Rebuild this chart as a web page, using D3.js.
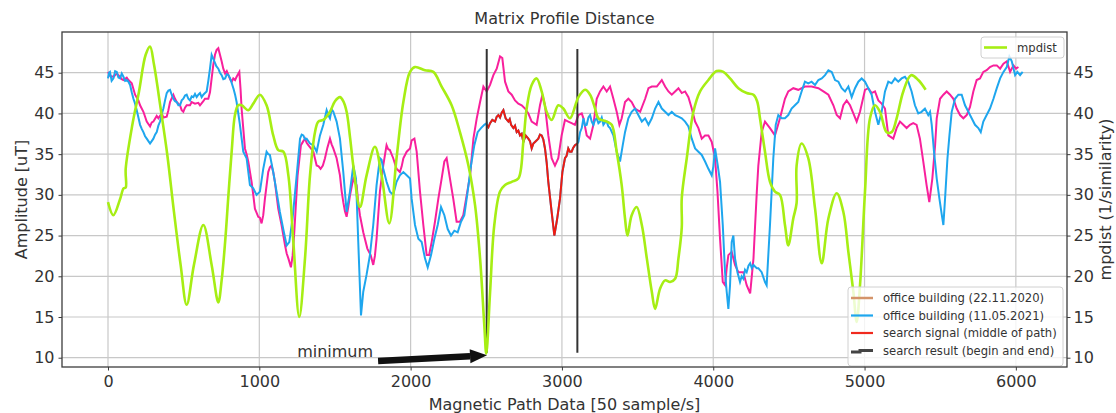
<!DOCTYPE html>
<html>
<head>
<meta charset="utf-8">
<script src="https://cdn.jsdelivr.net/npm/d3@7"></script>
<style>
  body { margin: 0; background: #fff; }
  text { font-family: "DejaVu Sans", sans-serif; fill: #333; }
</style>
</head>
<body>
<div id="chart"></div>
<script>
// ---- data ----
const xTicks = [0, 1000, 2000, 3000, 4000, 5000, 6000];
const yTicks = [10, 15, 20, 25, 30, 35, 40, 45];

// office building (22.11.2020) - pink
const office2020 = [[0,45.1],[13,44.6],[36,44.5],[58,44.9],[69,44.7],[91,44.2],[102,44.1],[124,44.4],[135,44.1],[157,43.7],[179,42.3],[201,41.6],[212,41],[234,40.2],[256,39],[278,38.4],[289,38.9],[300,39],[322,39.7],[333,39.4],[355,40],[366,39.5],[388,39.6],[399,40.4],[410,41.4],[432,42.3],[443,41.8],[454,41.4],[476,41],[487,40.4],[498,40.2],[509,40.7],[520,41],[542,41],[553,41.4],[575,41.2],[597,41.3],[608,41],[630,41.5],[641,41.8],[663,41.8],[674,42.6],[685,44.3],[696,46],[707,47.2],[718,47.8],[729,48],[740,47.2],[751,46.4],[762,45.5],[774,44.9],[785,45.2],[796,44.7],[807,44.2],[818,43.9],[828,44.3],[840,44.1],[850,44.5],[868,45.1],[876,43],[883,40.6],[905,35.7],[916,35],[927,34.1],[949,31.6],[960,30],[971,28.3],[993,27.3],[1004,27.2],[1015,26.5],[1026,27.5],[1037,29.5],[1059,32.8],[1070,33.4],[1081,33.6],[1092,32.8],[1103,31.6],[1125,28.3],[1147,26.3],[1170,23.8],[1181,22.8],[1192,22.2],[1209,21.1],[1220,22.5],[1231,25.4],[1253,32.4],[1275,36.1],[1291,36.6],[1302,36.9],[1313,36.4],[1324,36.1],[1346,35.6],[1357,35.3],[1379,33.6],[1392,33.5],[1405,33.2],[1420,33.6],[1434,34.5],[1450,35.8],[1467,36.9],[1478,36.2],[1489,35.7],[1511,34.5],[1533,32.4],[1544,30.5],[1555,29.1],[1566,28],[1577,27.3],[1588,28.5],[1599,29.9],[1621,32],[1632,31.5],[1643,31.2],[1654,29],[1665,27.5],[1687,25.4],[1714,23.4],[1736,22.6],[1753,21.4],[1764,22.5],[1775,24.6],[1797,30.4],[1819,33.6],[1841,36.1],[1852,35.6],[1863,35.5],[1885,34.5],[1907,33.2],[1929,32.8],[1941,33.5],[1952,34.5],[1974,35.3],[1996,35.7],[2007,36.7],[2025,36.9],[2040,35.3],[2062,30.4],[2084,26.3],[2106,22.6],[2122,22.6],[2139,24.2],[2161,26.7],[2183,29.5],[2205,32],[2223,34.1],[2238,34.5],[2260,32],[2282,29.5],[2304,26.7],[2326,26.7],[2348,27.5],[2371,30],[2393,32.4],[2415,36.9],[2437,39.4],[2459,41.4],[2481,43.3],[2503,42.7],[2525,43.5],[2547,44.7],[2569,45.5],[2591,47],[2606,46.8],[2624,43.9],[2646,42.7],[2668,42.3],[2690,41.6],[2712,41.2],[2734,41],[2756,40.6],[2778,40],[2800,39],[2833,38.6],[2855,41],[2871,42.3],[2888,41],[2910,37.3],[2932,34.5],[2954,33.6],[2976,34.5],[2998,37.3],[3020,39.2],[3042,39],[3064,38.8],[3086,38.6],[3109,39.8],[3131,40],[3142,39.4],[3164,37.3],[3186,36.9],[3208,38.6],[3230,41.8],[3252,42.7],[3274,43.3],[3296,42.7],[3318,43.3],[3340,41.8],[3362,40.2],[3380,38.6],[3395,39.4],[3417,41.4],[3439,41.8],[3461,41.4],[3483,40.6],[3517,40.2],[3550,41.8],[3572,43.1],[3594,43.3],[3627,43.3],[3660,44.1],[3682,43.3],[3704,42.7],[3726,42.3],[3748,42.7],[3770,43.1],[3792,42.5],[3814,42.7],[3836,42],[3858,40.6],[3880,39],[3902,38.2],[3924,36.9],[3946,37.3],[3968,37.3],[3990,36.5],[4012,34.5],[4028,30.4],[4045,24.6],[4063,19.3],[4078,18.9],[4089,21],[4100,22.6],[4122,23],[4144,21.4],[4166,20.5],[4199,20.5],[4221,18.9],[4244,17.9],[4266,22.2],[4276,26],[4288,30.4],[4298,33.6],[4320,37.7],[4342,39],[4375,38.2],[4408,37.3],[4441,39.4],[4474,41.8],[4496,42.7],[4529,43.1],[4562,42.9],[4606,43.3],[4650,43.3],[4695,43.1],[4728,42.7],[4761,42.3],[4794,41],[4816,39.8],[4838,39.4],[4860,41],[4882,41.6],[4904,41],[4926,40],[4948,39],[4970,40.2],[5003,42.9],[5025,43.1],[5047,42.5],[5069,42.7],[5091,41.6],[5113,41.2],[5135,40.6],[5157,37.3],[5190,36.9],[5212,38.2],[5234,39],[5256,38.6],[5278,38.2],[5300,38.6],[5322,38.8],[5344,38.6],[5366,36.9],[5388,34.1],[5410,31.2],[5428,29.1],[5448,32],[5466,36],[5477,39.4],[5499,41.8],[5521,42.3],[5543,42.7],[5565,42.3],[5587,41.8],[5609,40.6],[5631,39.8],[5653,39.4],[5675,39.8],[5697,40.8],[5719,42.7],[5741,44.1],[5763,44.3],[5785,45.1],[5807,45.3],[5829,45.7],[5852,45.9],[5874,45.9],[5896,45.5],[5918,46.1],[5940,46.4],[5962,45.1],[5984,45.9],[6001,45.5],[6017,45.7]];

// office building (11.05.2021) - blue, before and after the search window
const office2021a = [[0,44.3],[7,45],[13,45.1],[24,44],[36,44.3],[47,45.2],[58,45.1],[69,44.4],[80,44.3],[91,44.9],[102,44.5],[113,44],[124,44.1],[135,43.9],[146,43.5],[157,42.6],[168,41.8],[179,41.2],[190,40.4],[201,39.5],[212,38.6],[223,38.1],[234,37.7],[245,37.2],[256,36.9],[267,36.6],[278,36.3],[289,36.6],[300,36.9],[311,37.4],[322,37.7],[333,38.5],[344,39],[355,39.9],[366,40.6],[377,41.6],[388,42.5],[399,42.8],[410,42.9],[421,42.3],[432,41.8],[443,41.5],[454,41.4],[465,41],[476,41],[487,41.6],[498,41.8],[509,42.2],[520,42.3],[531,41.8],[542,41.6],[553,42.1],[564,42],[575,42.4],[586,42],[597,42.3],[608,42.5],[619,42],[630,42.3],[641,42.5],[652,42.7],[663,44],[674,45.5],[685,47.2],[694,46.8],[703,46.4],[716,45.8],[729,45.5],[740,45],[751,44.7],[762,44.2],[774,44.3],[785,44.8],[796,44.7],[807,44.3],[818,43.7],[830,43],[840,42.3],[850,41.4],[872,38.6],[894,35.3],[916,34.5],[938,31.2],[960,30.8],[982,30],[1004,30.4],[1026,33.2],[1048,35.3],[1059,35],[1070,34.9],[1092,32.8],[1114,30.4],[1136,27.9],[1158,25.8],[1181,23.8],[1198,24.2],[1220,27.1],[1247,32.4],[1269,36.9],[1280,37.4],[1291,37.3],[1302,36.8],[1313,36.9],[1335,36.3],[1357,36.1],[1379,35.3],[1401,37.3],[1423,38.6],[1445,40.4],[1456,39.8],[1467,39.4],[1478,40.5],[1489,40.2],[1500,39.6],[1511,39],[1533,36.9],[1555,32.8],[1577,27.9],[1599,30.4],[1621,33.6],[1639,32],[1654,24.2],[1672,15.2],[1687,18.1],[1709,20.2],[1731,22.6],[1753,26.3],[1775,31.2],[1797,34.5],[1808,34.3],[1819,33.2],[1841,31.6],[1863,30.4],[1885,30],[1907,31.6],[1929,32.4],[1952,32.8],[1974,32.4],[1996,32],[2007,29.5],[2029,26.3],[2051,24.6],[2073,24.2],[2095,22.2],[2113,21.1],[2135,22.6],[2157,24.6],[2179,26.3],[2201,28.5],[2223,27.5],[2245,25.8],[2267,25],[2289,25.6],[2311,25.4],[2333,26.7],[2355,27.5],[2377,30.4],[2399,33.6],[2421,36.1],[2443,37.7],[2465,38.2],[2487,38.6],[2503,38.8]];
const office2021b = [[3102,36.3],[3109,36.5],[3120,37.7],[3131,38.2],[3142,39.4],[3153,38.5],[3164,38.6],[3175,39.5],[3186,39.8],[3197,39],[3208,38.6],[3219,39.2],[3230,39.4],[3241,38.8],[3252,39],[3263,39.5],[3274,38.6],[3285,38.9],[3296,39],[3307,38.4],[3318,38.2],[3340,37.3],[3362,35.3],[3384,34.1],[3402,36.1],[3417,37.7],[3439,39.4],[3461,40.2],[3483,40.6],[3505,39.8],[3528,39],[3550,39.4],[3572,38.6],[3594,39.4],[3616,40.6],[3638,41.4],[3660,40.6],[3682,40.2],[3704,39.8],[3726,40.2],[3748,39.8],[3770,39.6],[3792,39.4],[3814,39],[3836,38.4],[3858,36.9],[3880,35.7],[3902,35.3],[3924,34.9],[3946,34.1],[3968,33.2],[3990,32.4],[4001,33.5],[4012,35.7],[4030,33.6],[4045,31.6],[4063,26.3],[4078,20.5],[4089,18.1],[4100,16],[4111,18.9],[4122,24.2],[4133,25],[4144,22.2],[4160,20.5],[4177,19.3],[4188,20],[4199,19.7],[4210,20.8],[4221,20.5],[4233,21.3],[4244,21.6],[4255,21],[4266,21.4],[4276,21.2],[4288,21],[4298,21],[4320,20.5],[4342,19.3],[4353,18.9],[4375,26.3],[4397,34.5],[4413,38.6],[4430,39.8],[4452,39.4],[4474,39.4],[4496,39.8],[4518,40.6],[4540,41],[4562,41.4],[4584,42.7],[4606,43.9],[4628,43.7],[4650,43.9],[4673,43.5],[4695,44.1],[4717,44.3],[4739,44.7],[4761,45.3],[4783,45.1],[4805,44.1],[4827,43.9],[4849,43.1],[4871,42.7],[4893,43.3],[4915,42],[4937,43.1],[4959,43.9],[4981,44.3],[5003,43.9],[5025,43.1],[5047,42.3],[5069,40.2],[5091,38.6],[5113,40.2],[5135,42.7],[5157,43.9],[5179,43.7],[5201,44.3],[5223,43.9],[5245,44.3],[5267,44.5],[5289,43.9],[5311,42.7],[5333,41],[5355,40],[5377,40.2],[5399,40.6],[5421,39.8],[5433,40.2],[5444,38.6],[5459,35.3],[5477,32],[5495,29.5],[5510,27.6],[5521,26.3],[5532,29.5],[5548,34.5],[5561,37.3],[5576,40.2],[5598,41.8],[5620,42.3],[5642,42.3],[5664,41],[5686,40.2],[5708,39.4],[5730,38.6],[5752,38.2],[5768,37.7],[5785,39],[5807,39.8],[5829,40.6],[5852,41.8],[5874,43.1],[5896,44.3],[5918,45.1],[5940,45.7],[5957,47],[5973,46.4],[5995,44.7],[6010,45.1],[6028,44.7],[6045,45.1]];

// search signal (middle of path) - red
const searchSignal = [[2503,38.6],[2514,38.3],[2525,38.8],[2540,39.2],[2558,39],[2569,39.6],[2580,39.8],[2591,39.5],[2602,40.1],[2613,40.4],[2628,39.4],[2646,39],[2655,39.3],[2664,38.6],[2679,38.2],[2690,38.5],[2701,37.7],[2712,37.9],[2723,37.3],[2734,37.5],[2745,36.5],[2760,37.3],[2778,36.9],[2789,36.6],[2800,35.7],[2811,36.3],[2822,36.5],[2844,36.9],[2855,37.4],[2866,37.3],[2877,36.8],[2888,35.7],[2899,34],[2910,31.6],[2932,27.9],[2950,25],[2968,27],[2987,29.5],[3003,32.8],[3020,34.5],[3031,34.8],[3042,35.7],[3053,35.3],[3064,35.3],[3075,35.8],[3086,36.1],[3102,36.3]];

// search result (begin and end)
const searchResult = [2503, 3102];
const searchResultRange = [10.6, 47.9];

// mpdist - lime, right axis
const mpdist = [[0,29.1],[35,27.5],[80,29.5],[103,30.8],[117,30.9],[117,33.2],[161,38.6],[205,42.7],[249,47.2],[278,48.2],[304,46],[348,40.6],[392,34.9],[436,27.9],[480,21.4],[520,16.5],[568,21.4],[630,26.3],[685,21.4],[729,16.8],[751,19.5],[774,24.2],[796,30],[818,35.5],[839,39.8],[860,41],[883,41],[927,40.4],[960,41.2],[1004,42.3],[1048,41],[1092,37.3],[1125,35.5],[1159,35.3],[1192,32.4],[1225,24.2],[1264,15],[1302,22.2],[1335,32.4],[1368,37.7],[1390,39],[1423,39.2],[1467,40.2],[1500,41.5],[1533,42],[1555,41.5],[1577,40.2],[1600,37],[1621,33.6],[1665,28.5],[1709,32.4],[1764,35.9],[1808,32.4],[1859,26.5],[1907,34.5],[1952,41.4],[1996,45.1],[2029,45.7],[2095,45.3],[2150,45.1],[2205,43.3],[2271,41],[2326,37.7],[2382,33.6],[2426,28.7],[2459,22.2],[2487,14],[2500,10.5],[2525,18],[2553,26.3],[2591,30.4],[2624,31.2],[2668,31.6],[2712,32],[2745,36.5],[2767,40.6],[2800,43.5],[2833,44.3],[2866,42.7],[2899,40.2],[2932,39.2],[2976,41],[3009,40.6],[3053,39.4],[3109,42],[3153,42.9],[3186,42.3],[3219,40.6],[3241,39.4],[3296,39],[3329,38.6],[3362,35.3],[3395,31.2],[3417,27.1],[3433,25],[3461,27.5],[3494,28.5],[3528,26.3],[3561,22.2],[3594,18.1],[3616,16],[3649,18.5],[3682,19.5],[3715,19.3],[3748,19.7],[3770,22.2],[3792,26],[3792,29.6],[3825,34.5],[3869,40.2],[3913,42.7],[3968,44.1],[4023,45.2],[4067,45.1],[4111,44.3],[4166,43.1],[4221,42.5],[4266,42.3],[4290,41.5],[4309,39.4],[4342,35.3],[4375,31.6],[4408,30.4],[4441,30],[4474,26.3],[4496,23.8],[4529,27.1],[4551,29],[4551,33.6],[4584,36.3],[4628,34.5],[4673,28.3],[4717,21.6],[4761,27.1],[4816,30.2],[4860,27.9],[4893,23],[4926,18.1],[4948,14.4],[4970,18.9],[5003,30.4],[5036,39.4],[5069,41],[5102,40.2],[5146,37.7],[5179,37.7],[5212,39.4],[5256,42.7],[5307,44.7],[5355,44.1],[5404,42.9]];

const legendEntries = ["office building (22.11.2020)", "office building (11.05.2021)", "search signal (middle of path)", "search result (begin and end)"];
const legendColors = ["#d4946a", "#1ea6ee", "#f02a1e", "#444"];
const minimumLabel = {text: "minimum", x: 1250, y: 10.1, from: [1785, 9.6], to: [2505, 10.3]};

// ---- layout ----
const width = 1116, height = 413;
const margin = {top: 32, left: 62, right: 49, bottom: 46};
const pinkC = "#f8209c", blueC = "#1ea6ee", redC = "#ee1c12", limeC = "#a6ee14";

const svg = d3.select("#chart").append("svg")
  .attr("width", width).attr("height", height);

const x = d3.scaleLinear().domain([-304, 6338]).range([margin.left, width - margin.right]);
const y = d3.scaleLinear().domain([8.86, 50]).range([height - margin.bottom, margin.top]);
const y2 = d3.scaleLinear().domain([8.86, 50]).range([height - margin.bottom, margin.top]);

svg.append("clipPath").attr("id", "clip").append("rect")
  .attr("x", margin.left).attr("y", margin.top)
  .attr("width", width - margin.left - margin.right)
  .attr("height", height - margin.top - margin.bottom);

// grid
const grid = svg.append("g");
grid.selectAll(".gx").data(xTicks).enter().append("line")
  .attr("x1", d => x(d)).attr("x2", d => x(d))
  .attr("y1", margin.top).attr("y2", height - margin.bottom)
  .attr("stroke", "#c8c8c8").attr("stroke-width", 1.2);
grid.selectAll(".gy").data(yTicks).enter().append("line")
  .attr("y1", d => y(d)).attr("y2", d => y(d))
  .attr("x1", margin.left).attr("x2", width - margin.right)
  .attr("stroke", "#c8c8c8").attr("stroke-width", 1.2);

const line = d3.line().x(d => x(d[0])).y(d => y(d[1]));
// mpdist is a smooth curve in the reference
const line2 = d3.line().x(d => x(d[0])).y(d => y2(d[1])).curve(d3.curveCatmullRom.alpha(0.5));

const plot = svg.append("g").attr("clip-path", "url(#clip)");

plot.append("path").datum(office2020)
  .attr("d", line).attr("fill", "none").attr("stroke", pinkC).attr("stroke-width", 2);

// blue runs underneath the red search signal
plot.append("path").datum(office2021a.concat(searchSignal, office2021b))
  .attr("d", line).attr("fill", "none").attr("stroke", blueC).attr("stroke-width", 2);

plot.append("path").datum(searchSignal)
  .attr("d", line).attr("fill", "none").attr("stroke", redC).attr("stroke-width", 2);

plot.selectAll(".res").data(searchResult).enter().append("line")
  .attr("x1", d => x(d)).attr("x2", d => x(d))
  .attr("y1", y(searchResultRange[0])).attr("y2", y(searchResultRange[1]))
  .attr("stroke", "#333").attr("stroke-width", 2);

// annotation
svg.append("text")
  .attr("x", x(minimumLabel.x)).attr("y", y(minimumLabel.y))
  .style("font-size", "16px")
  .text(minimumLabel.text);

{
  const x0 = x(minimumLabel.from[0]), y0 = y(minimumLabel.from[1]);
  const x1 = x(minimumLabel.to[0]), y1 = y(minimumLabel.to[1]);
  const headLen = 17;
  const ang = Math.atan2(y1 - y0, x1 - x0);
  const bx = x1 - headLen * Math.cos(ang), by = y1 - headLen * Math.sin(ang);
  svg.append("line")
    .attr("x1", x0).attr("y1", y0).attr("x2", bx).attr("y2", by)
    .attr("stroke", "#111").attr("stroke-width", 6.5);
  const nx = -Math.sin(ang) * 7, ny = Math.cos(ang) * 7;
  svg.append("path")
    .attr("d", `M${x1},${y1}L${bx + nx},${by + ny}L${bx - nx},${by - ny}Z`)
    .attr("fill", "#111");
}

// legend of the first axes
const lg = svg.append("g").attr("transform", "translate(848,287)");
lg.append("rect").attr("width", 215).attr("height", 79).attr("rx", 3)
  .attr("fill", "#fff").attr("fill-opacity", 0.8).attr("stroke", "#d0d0d0");
legendEntries.forEach((t, i) => {
  const yy = 11 + i * 17.5;
  if (i === 3) {
    lg.append("path").attr("d", `M3,${yy + 1.5}H12V${yy}H25`)
      .attr("fill", "none").attr("stroke", legendColors[i]).attr("stroke-width", 3);
  } else {
    lg.append("line").attr("x1", 3).attr("x2", 25).attr("y1", yy).attr("y2", yy)
      .attr("stroke", legendColors[i]).attr("stroke-width", i === 0 ? 2.5 : 2.2);
  }
  lg.append("text").attr("x", 35).attr("y", yy + 4)
    .style("font-size", "11.6px").text(t);
});

// twin axes: mpdist on top
plot.append("path").datum(mpdist)
  .attr("d", line2).attr("fill", "none").attr("stroke", limeC).attr("stroke-width", 2.6);

const lg2 = svg.append("g").attr("transform", "translate(981,37)");
lg2.append("rect").attr("width", 83).attr("height", 21).attr("rx", 3)
  .attr("fill", "#fff").attr("fill-opacity", 0.8).attr("stroke", "#d0d0d0");
lg2.append("line").attr("x1", 3).attr("x2", 26).attr("y1", 10.5).attr("y2", 10.5)
  .attr("stroke", limeC).attr("stroke-width", 2.6);
lg2.append("text").attr("x", 36).attr("y", 14.5).style("font-size", "11.6px").text("mpdist");

// spines
svg.append("rect")
  .attr("x", margin.left).attr("y", margin.top)
  .attr("width", width - margin.left - margin.right)
  .attr("height", height - margin.top - margin.bottom)
  .attr("fill", "none").attr("stroke", "#3c3c3c").attr("stroke-width", 1.3);

// axes
const xAxis = svg.append("g")
  .attr("transform", `translate(0,${height - margin.bottom})`)
  .call(d3.axisBottom(x).tickValues(xTicks).tickFormat(d3.format("d")).tickSize(3.5).tickPadding(5));
const yAxis = svg.append("g")
  .attr("transform", `translate(${margin.left},0)`)
  .call(d3.axisLeft(y).tickValues(yTicks).tickSize(3.5).tickPadding(4));
const yAxis2 = svg.append("g")
  .attr("transform", `translate(${width - margin.right},0)`)
  .call(d3.axisRight(y2).tickValues(yTicks).tickSize(3.5).tickPadding(3));
[xAxis, yAxis, yAxis2].forEach(a => {
  a.select(".domain").remove();
  a.selectAll("line").attr("stroke", "#3c3c3c");
  a.selectAll("text").attr("fill", "#333").style("font-size", "16px")
    .style("font-family", '"DejaVu Sans", sans-serif');
});

// titles
svg.append("text").attr("x", (margin.left + width - margin.right) / 2).attr("y", 24)
  .attr("text-anchor", "middle").style("font-size", "16px").text("Matrix Profile Distance");
svg.append("text").attr("x", (margin.left + width - margin.right) / 2).attr("y", 410)
  .attr("text-anchor", "middle").style("font-size", "16px").text("Magnetic Path Data [50 sample/s]");
svg.append("text")
  .attr("transform", `translate(27,${(margin.top + height - margin.bottom) / 2}) rotate(-90)`)
  .attr("text-anchor", "middle").style("font-size", "16px").text("Amplitude [uT]");
svg.append("text")
  .attr("transform", `translate(1111,${(margin.top + height - margin.bottom) / 2}) rotate(-90)`)
  .attr("text-anchor", "middle").style("font-size", "16px").text("mpdist (1/similarity)");
</script>
</body>
</html>
